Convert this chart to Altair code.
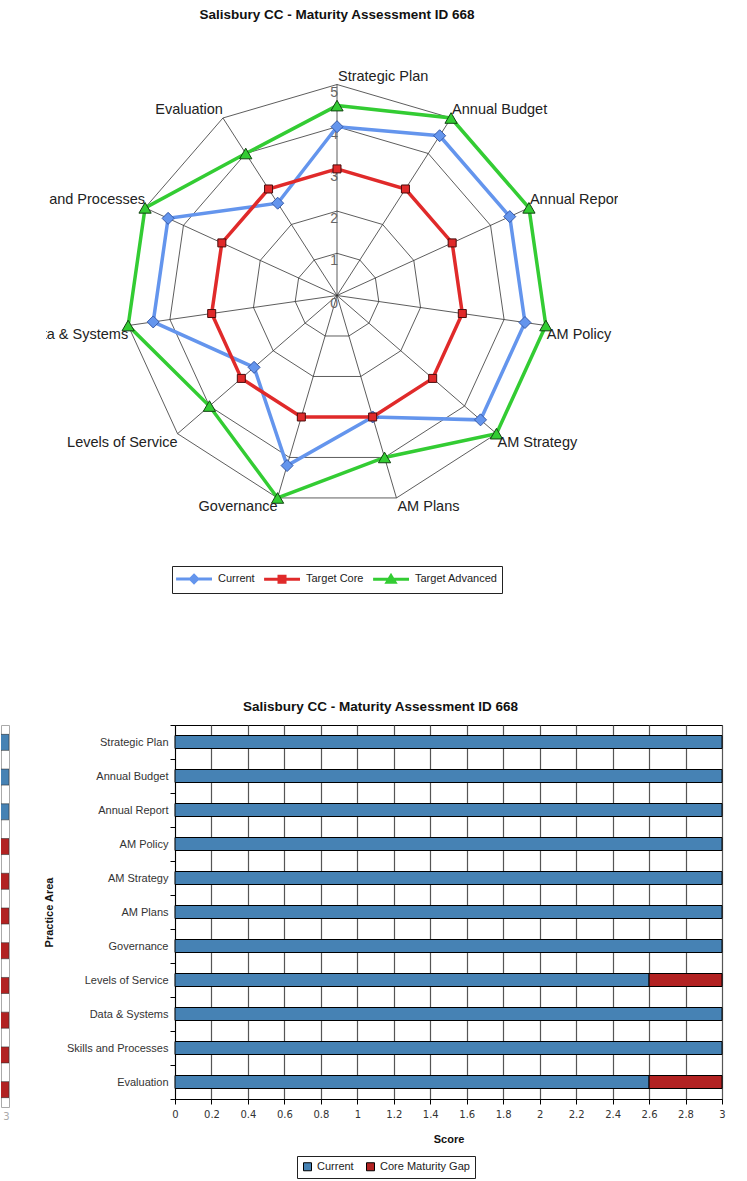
import math
import pandas as pd
import altair as alt

# ---------------------------------------------------------------------------
# Data
# ---------------------------------------------------------------------------
TITLE = "Salisbury CC - Maturity Assessment ID 668"

# practice areas, clockwise from the top of the web
AREAS = ["Strategic Plan", "Annual Budget", "Annual Report", "AM Policy",
         "AM Strategy", "AM Plans", "Governance", "Levels of Service",
         "Data & Systems", "Skills and Processes", "Evaluation"]

# maturity scores on the 0-5 scale
CURRENT = [4.0, 4.5, 4.5, 4.5, 4.5, 3.0, 4.2, 2.6, 4.4, 4.4, 2.6]
TARGET_CORE = [3.0, 3.0, 3.0, 3.0, 3.0, 3.0, 3.0, 3.0, 3.0, 3.0, 3.0]
TARGET_ADVANCED = [4.5, 5.0, 5.0, 5.0, 5.0, 4.0, 5.0, 4.0, 5.0, 5.0, 4.0]
RADAR_LEVELS = [0, 1, 2, 3, 4, 5]

SERIES = ["Current", "Target Core", "Target Advanced"]
SERIES_COLORS = ["#6495ED", "#E02A2A", "#33CC33"]
SERIES_OUTLINE = ["#3559A8", "#4A0C0C", "#124412"]
SERIES_SHAPES = ["diamond", "square", "triangle-up"]
SERIES_SIZES = [144, 64, 150]

# bar chart: current score up to the core target, plus the remaining gap
BAR_CURRENT = [3.0, 3.0, 3.0, 3.0, 3.0, 3.0, 3.0, 2.6, 3.0, 3.0, 2.6]
BAR_GAP = [0.0, 0.0, 0.0, 0.0, 0.0, 0.0, 0.0, 0.4, 0.0, 0.0, 0.4]
BAR_SERIES = ["Current", "Core Maturity Gap"]
BAR_COLORS = ["#4682B4", "#B22222"]
SCORE_TICKS = [0, 0.2, 0.4, 0.6, 0.8, 1.0, 1.2, 1.4, 1.6, 1.8,
               2.0, 2.2, 2.4, 2.6, 2.8, 3.0]

# companion gap chart on the far left: only the end of its bars shows
EDGE_CURRENT = [3.0, 3.0, 3.0, 2.5, 2.5, 2.5, 2.5, 2.5, 2.5, 2.5, 2.5]
EDGE_GAP = [0.0, 0.0, 0.0, 0.5, 0.5, 0.5, 0.5, 0.5, 0.5, 0.5, 0.5]

FONT = "Liberation Sans"
TITLE_SIZE = 13.5

# ---------------------------------------------------------------------------
# Radar chart geometry
# ---------------------------------------------------------------------------
N = len(AREAS)
PX_PER_UNIT = 42.2          # radial scale: pixels per score point
RADAR_W, RADAR_H = 572, 572
CX, CY = 291, 267.5         # web centre inside the plot area (pixels)
X_DOMAIN = [-CX / PX_PER_UNIT, (RADAR_W - CX) / PX_PER_UNIT]
Y_DOMAIN = [-(RADAR_H - CY) / PX_PER_UNIT, CY / PX_PER_UNIT]


def polar(r, k):
    a = 2 * math.pi * k / N
    return r * math.sin(a), r * math.cos(a)


series_rows = []
for name, vals in zip(SERIES, [CURRENT, TARGET_CORE, TARGET_ADVANCED]):
    for k in range(N + 1):
        x, y = polar(vals[k % N], k)
        series_rows.append({"series": name, "area": AREAS[k % N], "k": k,
                            "score": vals[k % N], "x": x, "y": y})
series_df = pd.DataFrame(series_rows)

ring_rows = []
for lvl in RADAR_LEVELS[1:]:
    for k in range(N + 1):
        x, y = polar(lvl, k)
        ring_rows.append({"level": lvl, "k": k, "x": x, "y": y})
ring_df = pd.DataFrame(ring_rows)

r_max = RADAR_LEVELS[-1]
spoke_df = pd.DataFrame([
    {"x": 0.0, "y": 0.0, "x2": polar(r_max, k)[0], "y2": polar(r_max, k)[1]}
    for k in range(N)
])

label_rows = []
for k, area in enumerate(AREAS):
    x, y = polar(r_max, k)
    label_rows.append({"area": area, "x": x, "y": y,
                       "right": x >= -1e-9, "upper": y > 1e-9})
label_df = pd.DataFrame(label_rows)

tick_df = pd.DataFrame({"level": RADAR_LEVELS,
                        "x": [0.0] * len(RADAR_LEVELS),
                        "y": [float(v) for v in RADAR_LEVELS]})

xs = alt.Scale(domain=X_DOMAIN, nice=False, zero=False)
ys = alt.Scale(domain=Y_DOMAIN, nice=False, zero=False)
X = alt.X("x:Q", scale=xs, axis=None)
Y = alt.Y("y:Q", scale=ys, axis=None)

layers = []

# web: rings and spokes
layers.append(alt.Chart(ring_df).mark_line(color="#333", strokeWidth=0.8)
              .encode(x=X, y=Y, detail="level:N", order="k:Q"))
layers.append(alt.Chart(spoke_df).mark_rule(color="#333", strokeWidth=0.8)
              .encode(x=X, y=Y, x2="x2:Q", y2="y2:Q"))

# radial scale labels along the first spoke
layers.append(alt.Chart(tick_df).mark_text(
    align="right", baseline="top", dx=1, dy=1, font=FONT, fontSize=14,
    color="#666").encode(x=X, y=Y, text="level:N"))

# series lines and markers
for name, col, outline, shape, size in zip(SERIES, SERIES_COLORS, SERIES_OUTLINE,
                                           SERIES_SHAPES, SERIES_SIZES):
    sdf = series_df[series_df["series"] == name]
    layers.append(alt.Chart(sdf).mark_line(color=col, strokeWidth=3.5)
                  .encode(x=X, y=Y, order="k:Q"))
    layers.append(alt.Chart(sdf[sdf["k"] < N]).mark_point(
        shape=shape, size=size, filled=True, fill=col, stroke=outline,
        strokeWidth=1, opacity=1).encode(x=X, y=Y))

# category labels, clipped to the plot frame
for right in (True, False):
    for upper in (True, False):
        ldf = label_df[(label_df["right"] == right) & (label_df["upper"] == upper)]
        if ldf.empty:
            continue
        layers.append(alt.Chart(ldf).mark_text(
            align="left" if right else "right",
            baseline="bottom" if upper else "top",
            dx=1 if right else 0, dy=-1 if upper else 2,
            font=FONT, fontSize=14.5, color="#222", clip=True)
            .encode(x=X, y=Y, text="area:N"))

# legend symbols: a line with the series marker in its middle.
# Paths are in symbol units (7 px each for symbolSize 196); the line runs
# to the right of the symbol slot, so the label offset makes room for it.
LEGEND_PATHS = [
    "M-1.2,0H0.85M1.87,0H3.93M1.36,-0.51L1.87,0L1.36,0.51L0.85,0Z",
    "M-1.2,0H0.93M1.79,0H3.93M0.93,-0.43H1.79V0.43H0.93Z",
    "M-1.2,0H1.05M1.67,0H3.93M1.36,-0.5L1.93,0.43L0.79,0.43Z",
]
radar_legend = alt.Legend(
    title=None, orient="none", legendX=126, legendY=538, direction="horizontal",
    symbolSize=196, symbolStrokeWidth=3, symbolOpacity=1,
    labelFont=FONT, labelFontSize=11, labelColor="#222", labelOffset=25,
    columnPadding=3, padding=4, strokeColor="#222", fillColor="white")
layers.append(alt.Chart(series_df).transform_filter("false").mark_point(filled=True)
              .encode(
                  x=X, y=Y,
                  fill=alt.Fill("series:N", scale=alt.Scale(domain=SERIES, range=SERIES_COLORS),
                                legend=radar_legend),
                  stroke=alt.Stroke("series:N", scale=alt.Scale(domain=SERIES, range=SERIES_COLORS),
                                    legend=radar_legend),
                  shape=alt.Shape("series:N", scale=alt.Scale(domain=SERIES, range=LEGEND_PATHS),
                                  legend=radar_legend)))

radar = alt.layer(*layers).properties(
    width=RADAR_W, height=RADAR_H,
    title=alt.TitleParams(TITLE, font=FONT, fontSize=TITLE_SIZE, fontWeight="bold",
                          color="#111", anchor="middle", dx=5, offset=6.5),
    view=alt.ViewBackground(stroke=None))

spacer = alt.Chart(pd.DataFrame({"x": [0.0]})).mark_point(opacity=0).encode(
    x=alt.X("x:Q", axis=None)).properties(
    width=45, height=10, view=alt.ViewBackground(stroke=None))

top_row = alt.hconcat(spacer, radar, spacing=0).resolve_scale(
    fill="independent", stroke="independent", shape="independent",
    color="independent")

# ---------------------------------------------------------------------------
# Bar chart
# ---------------------------------------------------------------------------
bar_rows = []
for area, cur, gap in zip(AREAS, BAR_CURRENT, BAR_GAP):
    bar_rows.append({"area": area, "series": BAR_SERIES[0], "score": cur, "o": 0})
    if gap > 0:
        bar_rows.append({"area": area, "series": BAR_SERIES[1], "score": gap, "o": 1})
bar_df = pd.DataFrame(bar_rows)

bar_legend = alt.Legend(
    title=None, orient="none", legendX=122, legendY=431, direction="horizontal",
    symbolType="square", symbolSize=64, symbolStrokeColor="black",
    symbolStrokeWidth=1, labelFont=FONT, labelFontSize=11, labelColor="#222",
    labelOffset=4, columnPadding=10, padding=5, strokeColor="#222",
    fillColor="white")

bars = alt.Chart(bar_df).mark_bar(size=13, stroke="black", strokeWidth=1).encode(
    x=alt.X("score:Q", stack="zero",
            scale=alt.Scale(domain=[0, 3], nice=False),
            axis=alt.Axis(values=SCORE_TICKS, format="~g", title="Score",
                          titleFont=FONT, titleFontSize=11, titleFontWeight="bold",
                          titleColor="#111", titlePadding=14,
                          labelFont="DejaVu Sans", labelFontSize=10,
                          labelColor="#333", labelPadding=5, labelFlush=False,
                          tickSize=5, tickColor="black", domainColor="black",
                          grid=True, gridColor="#555", gridWidth=1.2)),
    y=alt.Y("area:N", sort=AREAS,
            scale=alt.Scale(paddingInner=0, paddingOuter=0),
            axis=alt.Axis(title="Practice Area", titleFont=FONT, titleFontSize=11,
                          titleFontWeight="bold", titleColor="#111",
                          titlePadding=12, labelFont=FONT, labelFontSize=11,
                          labelColor="#333", labelPadding=2, labelLimit=300,
                          tickBand="extent", tickSize=5, tickColor="black",
                          domainColor="black", grid=False)),
    color=alt.Color("series:N", scale=alt.Scale(domain=BAR_SERIES, range=BAR_COLORS),
                    legend=bar_legend),
    order=alt.Order("o:Q"),
).properties(
    width=547, height=374,
    title=alt.TitleParams(TITLE, font=FONT, fontSize=TITLE_SIZE, fontWeight="bold",
                          color="#111", anchor="middle", dx=-68, offset=6),
    view=alt.ViewBackground(stroke="black", strokeWidth=1))

edge_rows = []
for area, cur, gap in zip(AREAS, EDGE_CURRENT, EDGE_GAP):
    edge_rows.append({"area": area, "series": BAR_SERIES[0], "score": cur, "o": 0})
    if gap > 0:
        edge_rows.append({"area": area, "series": "gap", "score": gap, "o": 1})
edge_df = pd.DataFrame(edge_rows)

edge = alt.Chart(edge_df).mark_bar(size=16, stroke="#333", strokeWidth=0.6,
                                   clip=True).encode(
    x=alt.X("score:Q", stack="zero",
            scale=alt.Scale(domain=[2.95, 3.0], nice=False, zero=False),
            axis=alt.Axis(values=[3], format="~g", title=None, labelAlign="right",
                          labelColor="#aaa", labelFont="DejaVu Sans",
                          labelFontSize=10, labelPadding=4, ticks=False,
                          domain=False, grid=False)),
    y=alt.Y("area:N", sort=AREAS, axis=None,
            scale=alt.Scale(paddingInner=0, paddingOuter=0)),
    color=alt.Color("series:N", legend=None,
                    scale=alt.Scale(domain=[BAR_SERIES[0], "gap"], range=BAR_COLORS)),
    order=alt.Order("o:Q"),
).properties(width=8, height=382,
             view=alt.ViewBackground(stroke="#aaa", strokeWidth=1))

bottom_row = alt.hconcat(edge, bars, spacing=33).resolve_scale(color="independent")

chart = alt.vconcat(top_row, bottom_row, spacing=99).resolve_scale(
    color="independent", fill="independent", stroke="independent",
    shape="independent",
).properties(
    padding={"left": 0, "top": 8, "right": 0, "bottom": 0},
    background="white",
).configure_view(stroke=None)

chart.save("out.html", embed_options={"renderer": "svg", "actions": False})
